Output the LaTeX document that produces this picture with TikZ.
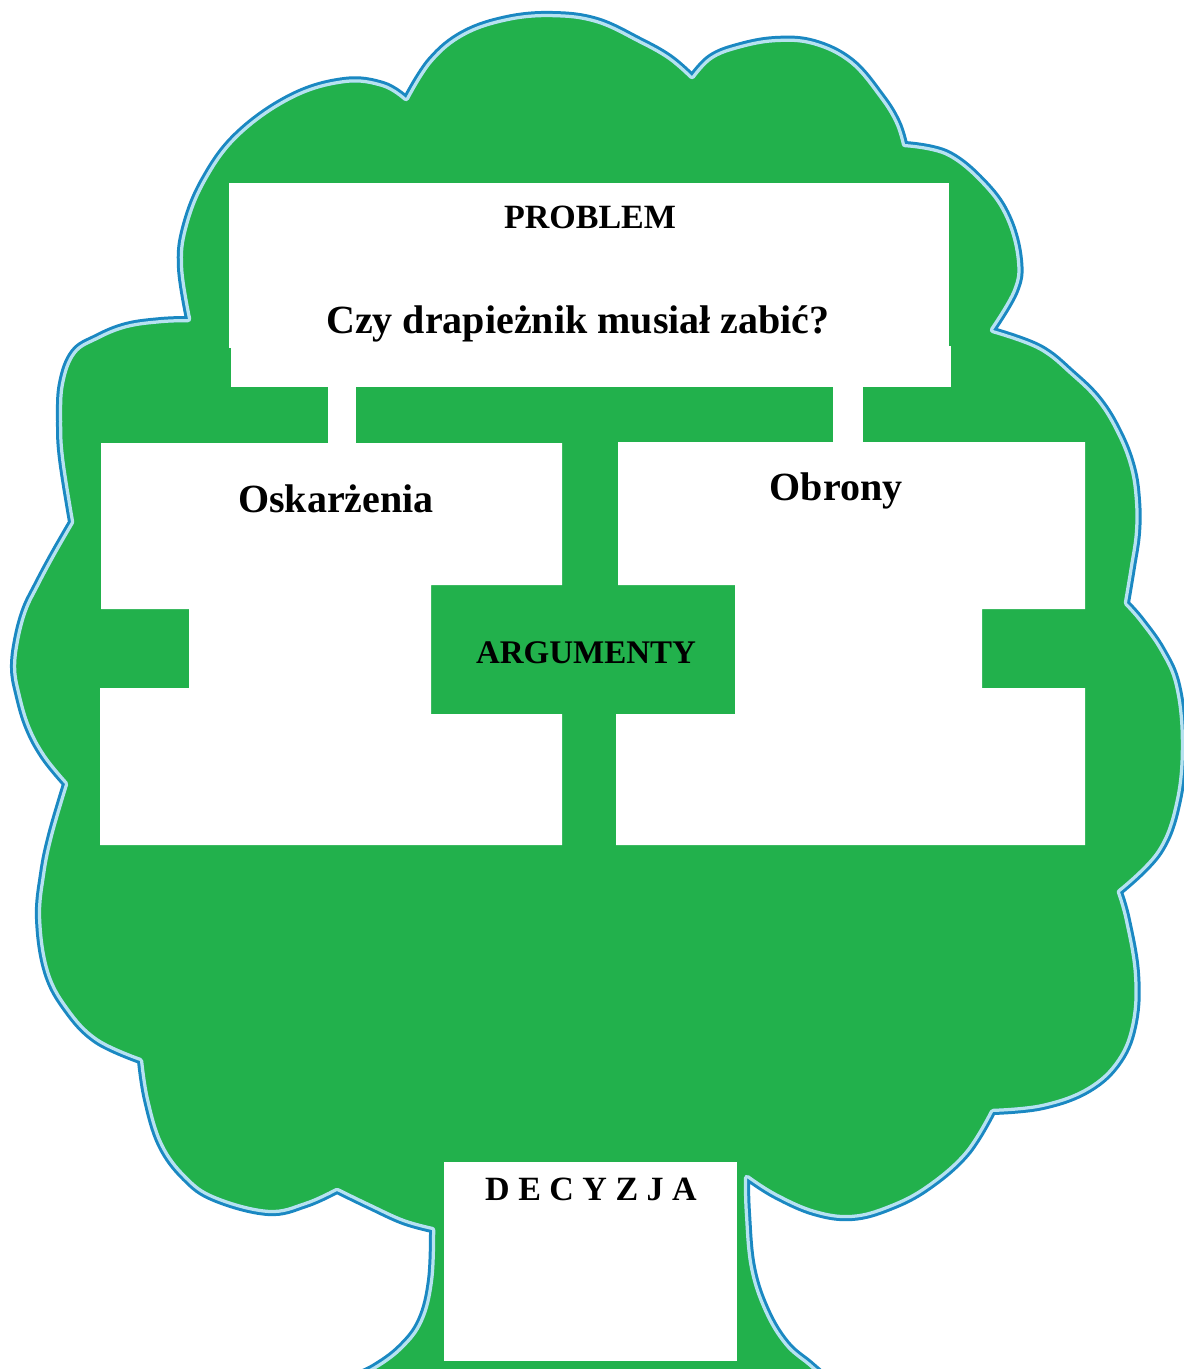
\documentclass[tikz,border=0pt]{standalone}
\usepackage{fontspec}
\setmainfont{Liberation Serif}

\definecolor{treegreen}{HTML}{22B14C}
\definecolor{rimdark}{HTML}{1A88C2}
\definecolor{rimlight}{HTML}{B7E2F0}

\tikzset{
  lobe/.style={smooth, tension=0.65},
  panel/.style={fill=white},
  lbl/.style={inner sep=0pt, anchor=base, text=black},
  bigtxt/.style={font=\fontsize{40}{46}\selectfont\bfseries},
  smalltxt/.style={font=\fontsize{34}{40}\selectfont\bfseries},
}

% Outline of the tree: trunk sides and the scalloped crown, one lobe per plot
\def\treeoutline{%
  plot[lobe] coordinates {(352,1376) (373,1367) (400,1347) (420,1320) (430,1280) (432,1230)}
  -- plot[lobe] coordinates {(432,1230) (403,1222) (370,1207) (337,1191)}
  -- plot[lobe] coordinates {(337,1191) (306,1205) (268,1213) (214,1199) (184,1178) (160,1145) (146,1100) (140,1061)}
  -- plot[lobe] coordinates {(140,1061) (96,1041) (66,1010) (46,972) (38,919) (42,874) (50,835) (65,784)}
  -- plot[lobe] coordinates {(65,784) (43,757) (27,727) (17,693) (13,668) (16,640) (24,610) (36,585) (52,555) (71,522)}
  -- plot[lobe] coordinates {(71,522) (61,459) (59,421) (61,383) (73,352) (96,337) (126,325) (161,320) (188,319)}
  -- plot[lobe] coordinates {(188,319) (180,268) (184,228) (203,180) (237,134) (291,96) (344,80) (383,84) (406,98)}
  -- plot[lobe] coordinates {(406,98) (430,60) (463,33) (507,18) (553,14) (597,20) (640,40) (670,57) (692,76)}
  -- plot[lobe] coordinates {(692,76) (710,57) (737,46) (775,39) (814,42) (852,61) (882,96) (898,122) (905,144)}
  -- plot[lobe] coordinates {(905,144) (948,153) (986,184) (1009,218) (1020,260) (1016,291) (993,330)}
  -- plot[lobe] coordinates {(993,330) (1040,347) (1073,373) (1100,400) (1120,433) (1133,467) (1138,500) (1138,533) (1133,567) (1127,603)}
  -- plot[lobe] coordinates {(1127,603) (1142,620) (1163,650) (1178,685) (1184,740) (1179,800) (1160,852) (1120,892)}
  -- plot[lobe] coordinates {(1120,892) (1128,920) (1137,973) (1135,1022) (1120,1061) (1089,1090) (1043,1107) (993,1112)}
  -- plot[lobe] coordinates {(993,1112) (967,1154) (928,1188) (890,1208) (852,1218) (814,1213) (775,1196) (747,1178)}
  -- plot[lobe] coordinates {(747,1178) (748,1213) (753,1267) (767,1310) (787,1343) (810,1363) (825,1376)}%
}

\begin{document}
\begin{tikzpicture}[x=1pt, y=-1pt]
  \useasboundingbox (0,0) rectangle (1184,1369);
  \fill[white] (0,0) rectangle (1184,1369);

  % crown and trunk, with a dark rim outside and a pale rim inside
  \fill[treegreen] \treeoutline -- (825,1385) -- (352,1385) -- cycle;
  \draw[rimdark, line width=6pt, line join=round] \treeoutline;
  \begin{scope}
    \clip \treeoutline -- (825,1385) -- (352,1385) -- cycle;
    \draw[rimlight, line width=6.5pt, line join=round] \treeoutline;
  \end{scope}

  % problem board and its two posts
  \fill[panel] (229,183) rectangle (949,348);
  \fill[panel] (231,346) rectangle (951,387);
  \fill[panel] (328,386) rectangle (356,444);
  \fill[panel] (833,386) rectangle (863,442);

  % accusation board
  \fill[panel] (101,443) -- (562,443) -- (562,585) -- (431,585) -- (431,714)
    -- (562,714) -- (562,845) -- (100,845) -- (100,688) -- (189,688)
    -- (189,609) -- (101,609) -- cycle;

  % defence board
  \fill[panel] (618,442) -- (1085,442) -- (1085,609) -- (982,609) -- (982,688)
    -- (1085,688) -- (1085,845) -- (616,845) -- (616,714) -- (735,714)
    -- (735,585) -- (618,585) -- cycle;

  % decision board on the trunk
  \fill[panel] (444,1162) rectangle (737,1361);

  % labels
  \node[lbl, smalltxt] (problem) at (590,228) {PROBLEM};
  \node[lbl, bigtxt] (question) at (578,333) {Czy drapieżnik musiał zabić?};
  \node[lbl, bigtxt] (accuse) at (336,512) {Oskarżenia};
  \node[lbl, bigtxt] (defend) at (836,500) {Obrony};
  \node[lbl, font=\fontsize{33}{38}\selectfont\bfseries] (args) at (586,663) {ARGUMENTY};
  \node[lbl, smalltxt] (decision) at (591,1200) {D E C Y Z J A};
\end{tikzpicture}
\end{document}
